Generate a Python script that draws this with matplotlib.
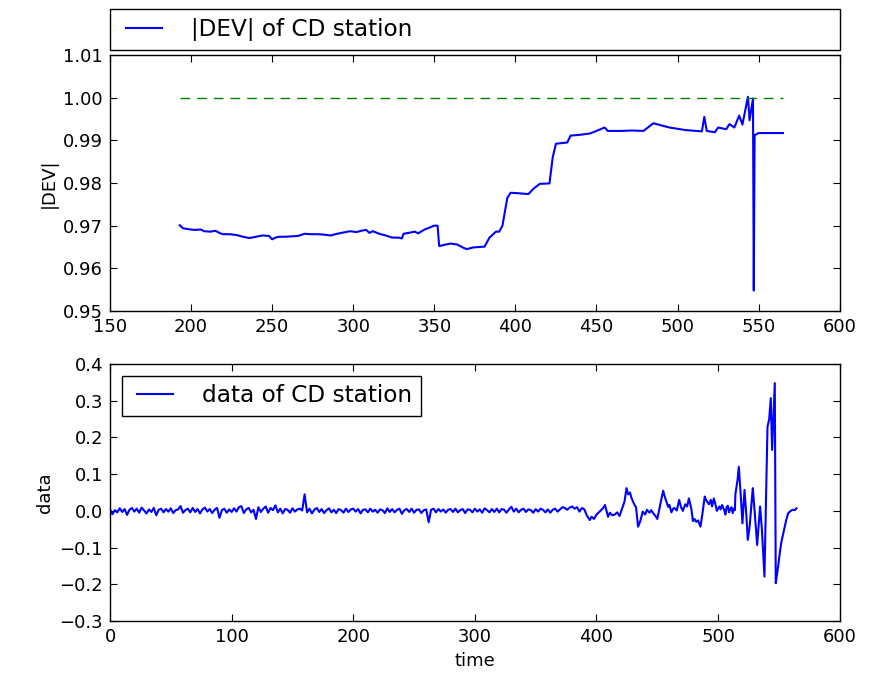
import matplotlib
matplotlib.use("Agg")
import matplotlib.pyplot as plt
from matplotlib.legend_handler import HandlerLine2D
import numpy as np

# |DEV| of CD station
dev_time = [193, 195, 198, 202, 206, 208, 212, 215, 218, 220, 224, 228, 232, 236,
            240, 244, 248, 250, 252, 254, 258, 262, 266, 270, 274, 278, 282, 286,
            290, 294, 298, 302, 306, 308, 310, 312, 316, 320, 324, 328, 330, 331,
            334, 338, 340, 344, 346, 350, 352, 353, 356, 360, 364, 368, 370, 374,
            378, 381, 384, 388, 390, 392, 395, 397, 402, 408, 411, 415, 421, 423,
            425, 432, 434, 440, 446, 450, 455, 457, 465, 472, 479, 485, 490, 495,
            505, 515, 516.5, 518, 523, 525, 530, 532, 535, 538, 540, 543.4, 544.4,
            546.5, 547, 547.5, 550, 565]
dev_value = [0.9701, 0.9694, 0.9692, 0.9690, 0.9691, 0.9687, 0.9686, 0.9688, 0.9682,
             0.9680, 0.9680, 0.9678, 0.9674, 0.9671, 0.9674, 0.9677, 0.9676, 0.9668,
             0.9672, 0.9674, 0.9674, 0.9675, 0.9676, 0.9681, 0.9680, 0.9680, 0.9679,
             0.9677, 0.9681, 0.9684, 0.9687, 0.9685, 0.9689, 0.9690, 0.9683, 0.9687,
             0.9681, 0.9677, 0.9672, 0.9672, 0.9670, 0.9681, 0.9683, 0.9686, 0.9682,
             0.9691, 0.9694, 0.9700, 0.9700, 0.9652, 0.9655, 0.9658, 0.9656, 0.9648,
             0.9645, 0.9649, 0.9650, 0.9651, 0.9672, 0.9686, 0.9686, 0.9700, 0.9765,
             0.9777, 0.9776, 0.9774, 0.9786, 0.9798, 0.9799, 0.9860, 0.9892, 0.9895,
             0.9911, 0.9913, 0.9916, 0.9922, 0.9930, 0.9922, 0.9922, 0.9923, 0.9922,
             0.9940, 0.9935, 0.9930, 0.9924, 0.9921, 0.9955, 0.9922, 0.9919, 0.9930,
             0.9926, 0.9938, 0.9930, 0.9958, 0.9937, 1.0002, 0.9947, 0.9998, 0.9548,
             0.9912, 0.9917, 0.9917]
ref_time = [193, 565]
ref_value = [1.0, 1.0]

# raw data of CD station (lower panel): quiet part sampled every 2 time units
quiet_time = np.arange(0, 390, 2)
quiet_value = [
    0.004, -0.009, 0.002, -0.004, 0.007, -0.003, 0.005, -0.011, 0.003, 0.008,
    -0.002, 0.006, -0.005, 0.009, 0.001, -0.007, 0.004, -0.003, 0.008, -0.012,
    0.003, 0.006, -0.004, 0.005, -0.002, 0.007, -0.006, 0.002, 0.004, 0.013,
    -0.005, 0.002, 0.006, -0.004, 0.008, -0.003, 0.005, -0.007, 0.004, 0.009,
    -0.002, 0.005, -0.006, 0.003, 0.008, -0.019, 0.002, 0.006, -0.005, 0.004,
    -0.003, 0.007, -0.002, 0.010, 0.013, -0.006, 0.004, 0.008, -0.004, 0.003,
    -0.022, 0.010, -0.003, 0.006, 0.012, -0.005, 0.008, 0.002, 0.015, -0.004,
    0.006, -0.007, 0.005, 0.003, -0.005, 0.007, -0.002, 0.004, 0.006, 0.001,
    0.045, -0.004, 0.006, -0.007, 0.003, 0.008, -0.003, 0.005, -0.006, 0.002,
    0.007, -0.004, 0.003, -0.006, 0.005, 0.002, -0.005, 0.006, -0.003, 0.004,
    0.006, -0.002, 0.005, -0.007, 0.003, 0.004, -0.004, 0.006, -0.002, 0.003,
    -0.005, 0.004, 0.002, -0.006, 0.007, -0.003, 0.005, -0.004, 0.003, 0.006,
    -0.008, 0.002, 0.005, -0.003, 0.006, -0.005, 0.003, 0.004, -0.006, 0.002,
    0.004, -0.031, 0.003, 0.006, -0.004, 0.005, -0.002, 0.004, -0.005, 0.003,
    0.005, -0.003, 0.006, -0.004, 0.002, 0.005, -0.006, 0.004, 0.003, -0.004,
    0.006, -0.002, 0.004, -0.005, 0.007, 0.002, -0.004, 0.005, -0.003, 0.006,
    -0.004, 0.005, 0.003, -0.005, 0.004, 0.011, -0.002, 0.006, -0.004, 0.003,
    0.006, -0.003, 0.004, 0.002, -0.005, 0.005, -0.002, 0.006, 0.003, -0.004,
    0.004, -0.005, 0.003, 0.006, -0.002, 0.004, 0.010, 0.008, 0.003, 0.009,
    0.012, 0.006, 0.010, -0.002, 0.008,
]
active_time = [390, 392, 394.5, 396, 398, 400, 402, 404, 405.5, 407, 409.5, 411, 413,
               415, 417, 419, 421, 423, 424.7, 426, 427.5, 428.8, 431, 432.5, 434.2,
               436, 438, 440, 441.5, 443.6, 445, 447, 448.5, 450, 452, 454.8, 456,
               457, 458.9, 460, 461.6, 463, 464, 466, 468, 469.5, 471, 473, 474.5,
               476, 477, 478, 479.3, 480.5, 482, 483.5, 485.5, 487, 489, 490, 491,
               492.5, 494, 495, 496.5, 498, 499, 501, 502, 503.3, 505, 506, 507, 508,
               509, 510, 511, 512, 513, 513.8, 514.2, 516, 517, 518.5, 520, 521.7,
               523, 524.4, 526, 528.5, 530, 532.1, 534.5, 536, 538.1, 539.5, 540.6,
               542, 543.3, 544.4, 546.6, 547.4, 549, 550.7, 552, 553.4, 555, 556,
               557.5, 559, 561, 563, 564.4]
active_value = [0.004, -0.012, -0.025, -0.016, -0.022, -0.010, -0.004, 0.003, 0.008,
                0.016, -0.016, -0.005, -0.012, -0.010, -0.004, -0.014, 0.006, 0.025,
                0.062, 0.045, 0.050, 0.035, 0.018, 0.010, -0.043, -0.028, -0.002,
                -0.010, 0.003, -0.005, 0.002, -0.008, -0.014, -0.022, 0.010, 0.055,
                0.040, 0.030, 0.011, 0.016, -0.004, 0.006, 0.008, 0.001, 0.030, 0.010,
                0.000, 0.018, 0.012, 0.034, 0.020, 0.005, -0.028, -0.022, -0.030,
                -0.026, -0.043, -0.010, 0.039, 0.030, 0.025, 0.018, 0.030, 0.012,
                0.034, 0.015, 0.000, 0.012, 0.004, 0.016, 0.002, -0.010, 0.010, 0.014,
                -0.004, 0.005, 0.010, -0.006, 0.006, 0.002, 0.045, 0.085, 0.120, 0.048,
                -0.034, 0.057, 0.000, -0.079, -0.040, 0.062, 0.000, -0.093, 0.012,
                -0.050, -0.179, 0.050, 0.229, 0.250, 0.307, 0.166, 0.348, -0.197,
                -0.160, -0.115, -0.085, -0.064, -0.040, -0.025, -0.007, -0.002, 0.003,
                0.002, 0.007]
data_time = np.concatenate([quiet_time, active_time])
data_value = np.concatenate([quiet_value, active_value])

plt.rcParams["font.family"] = "DejaVu Sans"

fig = plt.figure(figsize=(8.83, 6.77), dpi=100)
ax1 = fig.add_axes([0.1246, 0.5406, 0.8264, 0.3782])
ax2 = fig.add_axes([0.1246, 0.0827, 0.8264, 0.3796])

legend_kw = dict(fontsize=16.7, borderpad=0.38, handlelength=1.85, handletextpad=1.25,
                 fancybox=False, edgecolor="black", framealpha=1,
                 handler_map={matplotlib.lines.Line2D: HandlerLine2D(xpad=0.3)})

ax1.plot(dev_time, dev_value, color="#0000ff", lw=1.5, label="|DEV| of CD station")
ax1.plot(ref_time, ref_value, color="#008000", lw=1.0, dashes=(7, 5))
ax1.set_xlim(150, 600)
ax1.set_ylim(0.95, 1.01)
ax1.set_xticks(np.arange(150, 601, 50))
dev_ticks = np.arange(0.95, 1.0101, 0.01)
ax1.set_yticks(dev_ticks)
ax1.set_yticklabels(["%.2f" % v for v in dev_ticks])
ax1.set_ylabel("|DEV|", fontsize=13)
ax1.legend(bbox_to_anchor=(0, 1.02, 1, 0.102), loc="lower left", mode="expand",
           borderaxespad=0, **legend_kw)

ax2.plot(data_time, data_value, color="#0000ff", lw=1.5, label="data of CD station")
ax2.set_xlim(0, 600)
ax2.set_ylim(-0.3, 0.4)
ax2.set_xticks(np.arange(0, 601, 100))
data_ticks = np.round(np.arange(-0.3, 0.401, 0.1), 1)
ax2.set_yticks(data_ticks)
ax2.set_yticklabels([("%.1f" % (v + 0.0)).replace("-", "\u2212") for v in data_ticks])
ax2.set_ylabel("data", fontsize=13)
ax2.set_xlabel("time", fontsize=13)
ax2.legend(loc="upper left", **legend_kw)

for ax in (ax1, ax2):
    ax.tick_params(direction="in", top=True, right=True, length=5, width=0.8,
                   labelsize=13, pad=5)
    for spine in ax.spines.values():
        spine.set_linewidth(1.0)

fig.savefig("out.png", dpi=100)
